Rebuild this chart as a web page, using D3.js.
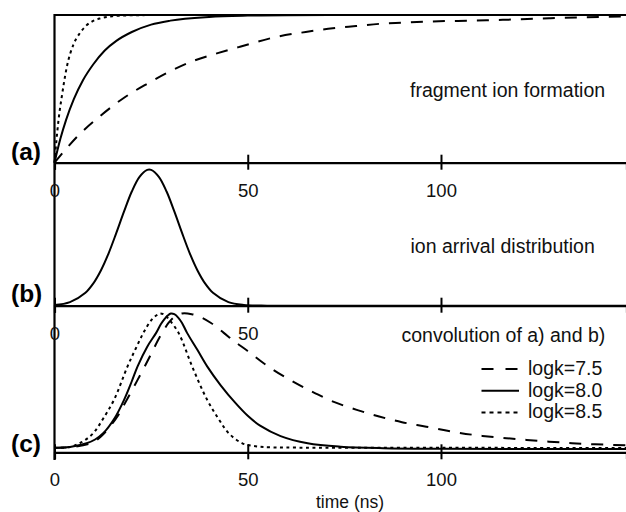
<!DOCTYPE html>
<html>
<head>
<meta charset="utf-8">
<script src="https://cdnjs.cloudflare.com/ajax/libs/d3/7.8.5/d3.min.js"></script>
<style>
  body { margin: 0; background: #fff; }
  svg { display: block; font-family: "Liberation Sans", Arial, sans-serif; }
</style>
</head>
<body>
<script>
// x axis
const tickValues = [0, 50, 100]
const tickLabelsB = [0, 50]   // panel (b) only shows 0 and 50
const xDomain = [0, 148]

// (a) fragment ion formation, fraction formed vs time (ns)
const formTimes75 = [0, 6, 12, 18, 24, 30, 36, 42, 48, 58, 65, 72, 78, 84, 90, 96, 108, 116, 128, 148]
const form75 = [0, 0.18, 0.32, 0.44, 0.535, 0.62, 0.69, 0.74, 0.785, 0.855, 0.885, 0.91, 0.925, 0.94, 0.948, 0.955, 0.962, 0.967, 0.978, 0.99]
const formTimes80 = [0, 1.5, 3, 5, 7.4, 10, 13, 16, 20, 25, 30, 40, 50, 60, 80, 148]
const form80 = [0, 0.16, 0.29, 0.43, 0.56, 0.665, 0.76, 0.825, 0.885, 0.935, 0.962, 0.987, 0.996, 0.999, 1, 1]
const formTimes85 = [0, 0.5, 1, 1.9, 3.2, 4.9, 6.5, 8.3, 10, 12, 15, 20, 30, 148]
const form85 = [0, 0.15, 0.28, 0.45, 0.65, 0.8, 0.875, 0.93, 0.96, 0.978, 0.992, 0.998, 1, 1]

// (b) ion arrival distribution
const arrivalTimes = [0, 4, 8, 10, 12, 14, 16, 18, 20, 22, 24, 25, 27, 29, 31, 33, 35, 37, 39, 41, 45, 49, 55, 60, 148]
const arrival = [0.005, 0.026, 0.095, 0.162, 0.259, 0.385, 0.535, 0.693, 0.839, 0.947, 0.998, 0.998, 0.947, 0.839, 0.693, 0.535, 0.385, 0.259, 0.162, 0.095, 0.026, 0.005, 0.0003, 0, 0]

// (c) convolution of a) and b)
const convTimes75 = [0, 5, 10, 13, 16.5, 18, 21.5, 24.8, 27.3, 29.5, 31, 33, 35.5, 37.7, 40.5, 43.8, 46.5, 49.9, 55, 60.9, 66.5, 72.1, 78.2, 84, 89.9, 96.2, 102.9, 108.5, 114.1, 119.8, 125.4, 131.3, 136.5, 142.4, 148]
const conv75 = [0.01, 0.015, 0.05, 0.12, 0.25, 0.326, 0.51, 0.69, 0.83, 0.93, 0.975, 1, 0.995, 0.975, 0.93, 0.857, 0.795, 0.725, 0.615, 0.51, 0.425, 0.35, 0.289, 0.24, 0.198, 0.165, 0.128, 0.104, 0.087, 0.073, 0.059, 0.048, 0.039, 0.032, 0.028]
const convTimes80 = [0, 4, 8.3, 10.5, 12.6, 15.5, 18, 20, 21.5, 24, 26.3, 27.5, 28.5, 29.3, 30.1, 31, 32, 33, 34.3, 37, 39.5, 43, 46.8, 50, 53.3, 58.5, 65.5, 74, 85, 100, 148]
const conv80 = [0.01, 0.015, 0.042, 0.07, 0.116, 0.225, 0.363, 0.5, 0.61, 0.755, 0.857, 0.92, 0.96, 0.985, 1, 0.995, 0.97, 0.93, 0.857, 0.73, 0.61, 0.47, 0.34, 0.245, 0.17, 0.095, 0.042, 0.017, 0.006, 0.002, 0]
const convTimes85 = [0, 4, 7, 10, 12.5, 15.4, 18.9, 21, 23, 25, 26.3, 27.3, 28.5, 29.5, 32.1, 35.6, 39.5, 42.5, 45.1, 48.6, 52, 56, 65, 148]
const conv85 = [0.008, 0.015, 0.05, 0.116, 0.22, 0.363, 0.61, 0.74, 0.857, 0.95, 0.985, 1, 0.99, 0.96, 0.857, 0.61, 0.363, 0.22, 0.116, 0.042, 0.02, 0.012, 0.01, 0.008]

const legendLabels = ['logk=7.5', 'logk=8.0', 'logk=8.5']

const WIDTH = 626
const HEIGHT = 512
const XLEFT = 54.5
const XRIGHT = 626.5
const TOP = 15

// line styles for the three rate constants
const DASHES = ['12,10', null, '3,3.5']

const zip = (ts, vs) => ts.map((t, i) => ({t: t, v: vs[i]}))

const panels = [
  {label: '(a)', title: 'fragment ion formation', axisY: 162.7, zero: 162.7, one: 15,
   titleX: 410, titleY: 97, labelY: 160, labels: tickValues, curve: d3.curveMonotoneX,
   series: [zip(formTimes75, form75), zip(formTimes80, form80), zip(formTimes85, form85)]},
  {label: '(b)', title: 'ion arrival distribution', axisY: 305.7, zero: 305.7, one: 169.6,
   titleX: 410.5, titleY: 253, labelY: 302, labels: tickLabelsB, curve: d3.curveCatmullRom.alpha(0.5),
   series: [null, zip(arrivalTimes, arrival), null]},
  {label: '(c)', title: 'convolution of a) and b)', axisY: 452.3, zero: 449, one: 313.5,
   titleX: 401.5, titleY: 342, labelY: 451.5, labels: tickValues, curve: d3.curveCatmullRom.alpha(0.5),
   series: [zip(convTimes75, conv75), zip(convTimes80, conv80), zip(convTimes85, conv85)]}
]

const svg = d3.select('body').append('svg')
  .attr('width', WIDTH)
  .attr('height', HEIGHT)

const xScale = d3.scaleLinear()
  .domain(xDomain)
  .range([XLEFT, XRIGHT])

// frame: top line and left axis
svg.append('line')
  .attr('x1', XLEFT).attr('x2', XRIGHT)
  .attr('y1', TOP).attr('y2', TOP)
  .attr('stroke', '#000').attr('stroke-width', 2.2)

svg.append('line')
  .attr('x1', XLEFT).attr('x2', XLEFT)
  .attr('y1', TOP - 1).attr('y2', 460)
  .attr('stroke', '#000').attr('stroke-width', 2.2)

panels.forEach(p => {
  const yScale = d3.scaleLinear()
    .domain([0, 1])
    .range([p.zero, p.one])

  const axisG = svg.append('g')
    .attr('transform', 'translate(0,' + p.axisY + ')')
    .call(d3.axisBottom(xScale)
      .tickValues(tickValues)
      .tickSizeOuter(0)
      .tickSize(7)
      .tickPadding(14)
      .tickFormat(d => p.labels.includes(d) ? d : ''))

  axisG.select('.domain').attr('stroke', '#000').attr('stroke-width', 2.2)
  axisG.selectAll('.tick line')
    .attr('y1', -8)
    .attr('stroke', '#000')
    .attr('stroke-width', 2)
  axisG.selectAll('.tick text')
    .attr('fill', '#111')
    .style('font-size', '18.5px')

  const line = d3.line()
    .x(d => xScale(d.t))
    .y(d => yScale(d.v))
    .curve(p.curve)

  p.series.forEach((s, i) => {
    if (!s) return
    svg.append('path')
      .datum(s)
      .attr('d', line)
      .attr('fill', 'none')
      .attr('stroke', '#000')
      .attr('stroke-width', 2)
      .attr('stroke-dasharray', DASHES[i])
  })

  svg.append('text')
    .attr('x', p.titleX)
    .attr('y', p.titleY)
    .attr('fill', '#111')
    .style('font-size', '19.5px')
    .text(p.title)

  svg.append('text')
    .attr('x', 11)
    .attr('y', p.labelY)
    .attr('fill', '#000')
    .style('font-size', '24.5px')
    .style('font-weight', 'bold')
    .text(p.label)
})

// legend in panel (c)
const legend = svg.selectAll('g.legend-item')
  .data(legendLabels)
  .enter()
  .append('g')
  .attr('class', 'legend-item')
  .attr('transform', (d, i) => 'translate(0,' + (375 + i * 21.7) + ')')

legend.append('line')
  .attr('x1', 481.5).attr('x2', 519)
  .attr('y1', -6).attr('y2', -6)
  .attr('stroke', '#000')
  .attr('stroke-width', 2)
  .attr('stroke-dasharray', (d, i) => i === 0 ? '12,12' : (i === 2 ? '4,4' : null))

legend.append('text')
  .attr('x', 528)
  .attr('y', 0)
  .attr('fill', '#111')
  .style('font-size', '19.5px')
  .text(d => d)

svg.append('text')
  .attr('x', 316)
  .attr('y', 508)
  .attr('fill', '#111')
  .style('font-size', '17.5px')
  .text('time (ns)')
</script>
</body>
</html>
